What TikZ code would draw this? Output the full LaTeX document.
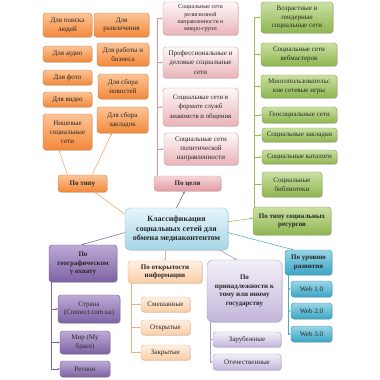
\documentclass[tikz,border=0pt]{standalone}
\usepackage{fontspec}
\setmainfont{Liberation Serif}
\usetikzlibrary{shadows,arrows.meta,calc}
\definecolor{txt}{HTML}{262626}
\definecolor{orT}{HTML}{FCC497}
\definecolor{orB}{HTML}{F3893A}
\definecolor{orD}{HTML}{E07B30}
\definecolor{orL}{HTML}{F2A66A}
\definecolor{peT}{HTML}{FEF0E4}
\definecolor{peB}{HTML}{FBCDA5}
\definecolor{peD}{HTML}{F1B07C}
\definecolor{piT}{HTML}{FEF8F8}
\definecolor{piB}{HTML}{E9B3B8}
\definecolor{piD}{HTML}{D9969C}
\definecolor{pgT}{HTML}{F6D5D8}
\definecolor{pgB}{HTML}{E39BA2}
\definecolor{grT}{HTML}{CBE0A3}
\definecolor{grB}{HTML}{8FB550}
\definecolor{grD}{HTML}{7F9F45}
\definecolor{grL}{HTML}{9BBB59}
\definecolor{clT}{HTML}{E6F4F9}
\definecolor{clB}{HTML}{A6D6E7}
\definecolor{clD}{HTML}{8CC7DB}
\definecolor{tlT}{HTML}{9AD5E6}
\definecolor{tlB}{HTML}{3AA5C4}
\definecolor{tlD}{HTML}{3592AD}
\definecolor{tlL}{HTML}{4BACC6}
\definecolor{puT}{HTML}{BCAAD6}
\definecolor{puB}{HTML}{7E62A3}
\definecolor{puD}{HTML}{6B528E}
\definecolor{puL}{HTML}{8064A2}
\definecolor{lpT}{HTML}{F3F0F8}
\definecolor{lpB}{HTML}{C3B5DB}
\definecolor{lpD}{HTML}{A899C3}
\begin{document}
\begin{tikzpicture}[x=1pt,y=-1pt,
  base/.style={rounded corners=3pt, align=center, inner sep=0.5pt,
    font=\fontsize{7}{8.8}\selectfont, text=txt, line width=0.4pt,
    drop shadow={shadow xshift=0.8pt, shadow yshift=-0.9pt, opacity=0.3}},
  sz/.style 2 args={minimum width=#1pt, minimum height=#2pt},
  hd/.style={font=\fontsize{7}{8.8}\selectfont\bfseries},
  orng/.style={base, draw=orD, top color=orT, bottom color=orB},
  peach/.style={base, draw=peD, top color=peT, bottom color=peB},
  pink/.style={base, draw=piD, top color=piT, bottom color=piB},
  pinkhd/.style={base, draw=piD, top color=pgT, bottom color=pgB},
  green/.style={base, draw=grD, top color=grT, bottom color=grB},
  clsbox/.style={base, draw=clD, top color=clT, bottom color=clB, rounded corners=5pt},
  teal/.style={base, draw=tlD, top color=tlT, bottom color=tlB},
  purp/.style={base, draw=puD, top color=puT, bottom color=puB},
  lpurp/.style={base, draw=lpD, top color=lpT, bottom color=lpB},
  arr/.style={-{Stealth[length=2.4pt,width=2pt]}, line width=0.55pt},
]
\useasboundingbox[fill=white] (0,0) rectangle (380,380);

% orange group
\node[orng, sz={49}{24}] (op1) at (67.5,25) {Для поиска\\людей};
\node[orng, sz={55}{24}] (op2) at (121.5,25) {Для\\развлечения};
\node[orng, sz={49}{16}] (op3) at (67.5,54) {Для аудио};
\node[orng, sz={52}{23}] (op4) at (123,54.5) {Для работы и\\бизнеса};
\node[orng, sz={49}{15}] (op5) at (67.5,77.5) {Для фото};
\node[orng, sz={49}{15}] (op6) at (67.5,99.5) {Для видео};
\node[orng, sz={50}{25}] (op7) at (123,86.5) {Для сбора\\новостей};
\node[orng, sz={49}{36}] (op8) at (67.5,132) {Нишевые\\социальные\\сети};
\node[orng, sz={51}{26}] (op9) at (122.5,120) {Для сбора\\закладок};
\node[orng, sz={49}{17}, hd] (ptype) at (82.5,183.5) {По типу};

% pink group
\node[pink, sz={75}{33}, font=\fontsize{6}{7.4}\selectfont] (pk1) at (200.5,18.5) {Социальные сети\\религиозной\\направленности и\\микро-групп};
\node[pink, sz={75}{31}, font=\fontsize{7}{9.3}\selectfont] (pk2) at (200.5,62.5) {Профессиональные и\\деловые социальные\\сети};
\node[pink, sz={75}{38}, font=\fontsize{6.8}{9.5}\selectfont] (pk3) at (200.5,107) {Социальные сети в\\формате служб\\знакомств и общения};
\node[pink, sz={74}{32}] (pk4) at (201,149) {Социальные сети\\политической\\направленности};
\node[pinkhd, sz={67}{15}, hd] (pgoal) at (187.5,183.5) {По цели};

% green group
\node[green, sz={72}{31}] (g1) at (297,17.5) {Возрастные и\\гендерные\\социальные сети};
\node[green, sz={76}{23}] (g2) at (299,54.5) {Социальные сети\\вебмастеров};
\node[green, sz={76}{23}] (g3) at (299,86.5) {Многопользовательс\\кие сетевые игры};
\node[green, sz={75}{16}] (g4) at (299.5,115) {Геосоциальные сети};
\node[green, sz={75}{14}] (g5) at (299.5,135) {Социальные закладки};
\node[green, sz={75}{14}] (g6) at (299.5,157) {Социальные каталоги};
\node[green, sz={60}{25}] (g7) at (292,184.5) {Социальные\\библиотеки};
\node[green, sz={78}{28}, hd] (gres) at (292,221) {По типу социальных\\ресурсов};

% center
\node[clsbox, sz={103}{42}, font=\fontsize{8}{9.6}\selectfont\bfseries] (cls) at (176.5,229) {Классификация\\социальных сетей для\\обмена медиаконтентом};

% teal group
\node[teal, sz={47}{25}, hd] (blvl) at (308.5,262.5) {По уровню\\развития};
\node[teal, sz={41}{16}] (w1) at (311.5,289) {Web 1.0};
\node[teal, sz={41}{16}] (w2) at (311.5,311) {Web 2.0};
\node[teal, sz={41}{16}] (w3) at (311.5,334) {Web 3.0};

% purple group
\node[purp, sz={68}{37}, hd] (geo) at (83,263.5) {По\\географическом\\у охвату};
\node[purp, sz={62}{28}] (cn) at (89,309) {Страна\\(Connect.com.ua)};
\node[purp, sz={50}{23}] (mir) at (85,342.5) {Мир (My\\Space)};
\node[purp, sz={50}{16}] (reg) at (85,369) {Регион};

% light purple group
\node[lpurp, sz={75}{62}, hd, rounded corners=6pt] (gov) at (244.5,291) {По\\принадлежности к\\тому или иному\\государству};
\node[lpurp, sz={68}{15}] (zar) at (247,339.5) {Зарубежные};
\node[lpurp, sz={68}{16}] (ote) at (247,362) {Отечественные};

% peach group
\node[peach, sz={74}{22}, hd] (open) at (165,272) {По открытости\\информации};
\node[peach, sz={49}{15}] (sm) at (165.5,304.5) {Смешанные};
\node[peach, sz={49}{15}] (ot) at (165.5,327.5) {Открытые};
\node[peach, sz={49}{15}] (za) at (165.5,352.5) {Закрытые};

% connectors from centre
\draw[arr, orL] (cls.164) -- (ptype.-35);
\draw[arr, puL] (cls.north) -- (pgoal.250);
\draw[arr, grL] (cls.8) -- (gres.176);
\draw[arr, tlL] (cls.-4) -- (blvl.140);
\draw[arr, lpD] (cls.-26) -- (gov.104);
\draw[arr, peD] (cls.south -| open.north) -- (open.north);
\draw[arr, puL] (cls.184) -- (geo.95);
\draw[arr, orL] (ptype.150) -- (op8.-115);
\draw[arr, orL] (ptype.42) -- (op9.-129);

% brackets
\coordinate (pkt) at (157,18);
\coordinate (pkb) at (157,176);
\draw[piD, line width=0.5pt] (pkt) -- (pkb);
\foreach \n in {pk1,pk2,pk3,pk4} \draw[arr, piD, line width=0.5pt] (pkt |- \n.west) -- (\n.west);

\coordinate (grt) at (254,18);
\coordinate (grb) at (254,207);
\draw[grL, line width=0.55pt] (grt) -- (grb);
\foreach \n in {g1,g2,g3,g4,g5,g6,g7} \draw[arr, grL] (grt |- \n.west) -- (\n.west);

\coordinate (tlt) at (288,275);
\coordinate (tlb) at (288,334);
\draw[tlL, line width=0.55pt] (tlt) -- (tlb);
\foreach \n in {w1,w2,w3} \draw[arr, tlL] (tlt |- \n.west) -- (\n.west);

\coordinate (put) at (51,282);
\coordinate (pub) at (51,369);
\draw[puL, line width=0.55pt] (put) -- (pub);
\foreach \n in {cn,mir,reg} \draw[arr, puL] (put |- \n.west) -- (\n.west);

\coordinate (lpt) at (210,322);
\coordinate (lpb) at (210,362);
\draw[lpD, line width=0.55pt] (lpt) -- (lpb);
\foreach \n in {zar,ote} \draw[arr, lpD] (lpt |- \n.west) -- (\n.west);

\coordinate (pet) at (131,283);
\coordinate (peb) at (131,352.5);
\draw[peD, line width=0.55pt] (pet) -- (peb);
\foreach \n in {sm,ot,za} \draw[arr, peD] (pet |- \n.west) -- (\n.west);
\end{tikzpicture}
\end{document}
